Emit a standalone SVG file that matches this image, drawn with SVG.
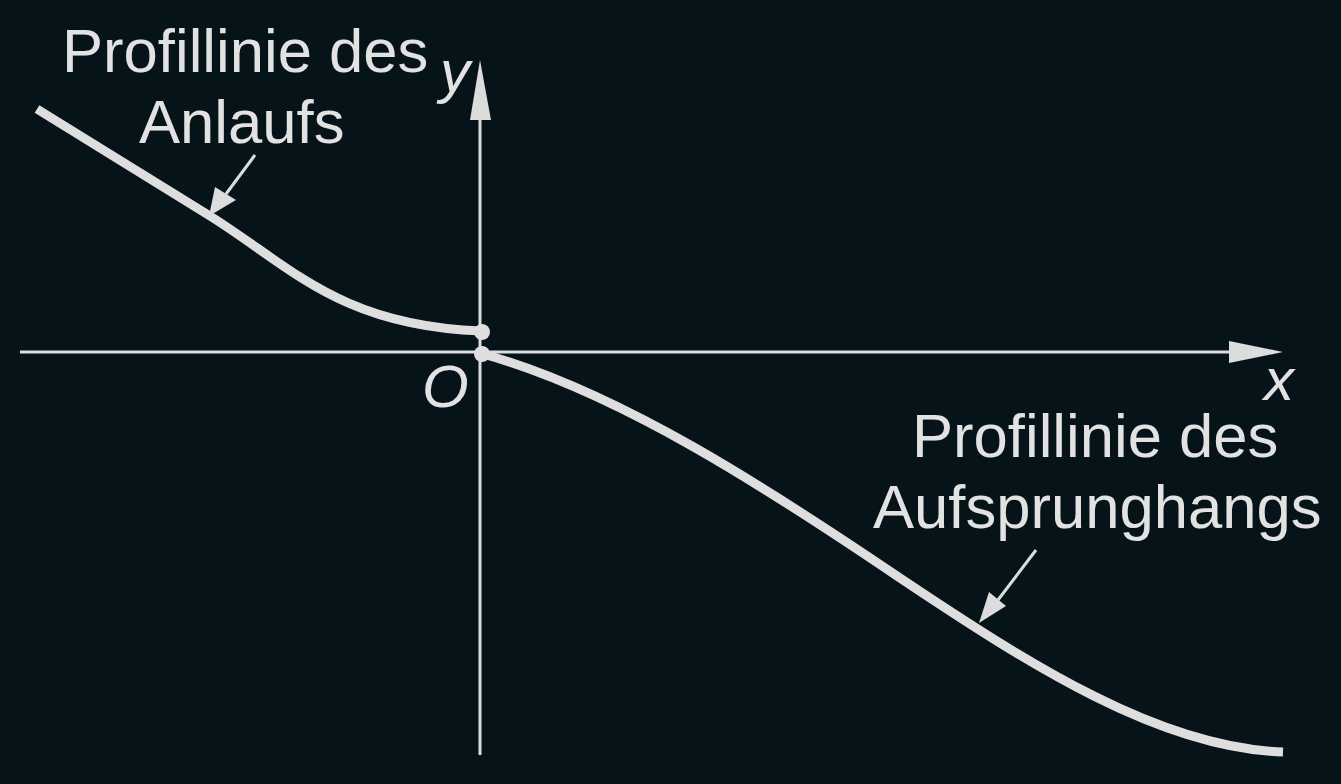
<svg xmlns="http://www.w3.org/2000/svg" width="1341" height="784" viewBox="0 0 1341 784">
<style>
.bg{fill:#06141a}
.axis{stroke:#dcdcdc;stroke-width:3;fill:none}
.curve{stroke:#dedede;stroke-width:9;fill:none}
.ptr{stroke:#dcdcdc;stroke-width:3;fill:none}
.head{fill:#dcdcdc}
.lbl{font-family:"Liberation Sans",Arial,sans-serif;font-size:61.6px;fill:#e2e2e2}
.var{font-family:"Liberation Sans",Arial,sans-serif;font-size:60px;font-style:italic;fill:#e2e2e2}
</style>
<rect class="bg" x="0" y="0" width="1341" height="784"/>
<g id="axes">
<line class="axis" x1="20" y1="352" x2="1240" y2="352"/>
<polygon class="head" points="1283,352 1229,341 1229,363"/>
<line class="axis" x1="480" y1="755" x2="480" y2="110"/>
<polygon class="head" points="480,60 470,120 491,120"/>
<text class="var" x="440" y="92">y</text>
<text class="var" x="422" y="407">O</text>
<text class="var" x="1264" y="400">x</text>
</g>
<g id="anlauf">
<path class="curve" d="M37,109 L210,216 C290,266 340,326 481,331"/>
<circle cx="482" cy="332" r="8" fill="#dedede"/>
<text class="lbl" x="62" y="72">Profillinie des</text>
<text class="lbl" x="139" y="143">Anlaufs</text>
</g>
<g id="aufsprung">
<path class="curve" d="M483,354 C620,392 770,490 900,578 C1030,665 1160,748 1283,752"/>
<circle cx="482" cy="354" r="8" fill="#dedede"/>
<text class="lbl" x="912" y="457">Profillinie des</text>
<text class="lbl" x="873" y="528">Aufsprunghangs</text>
</g>
<g id="connectors">
<line class="ptr" x1="255" y1="155" x2="226" y2="194"/>
<polygon class="head" points="209,216 215,187 236,200"/>
<line class="ptr" x1="1036" y1="550" x2="998" y2="600"/>
<polygon class="head" points="979,623 989,592 1006,606"/>
</g>
</svg>
